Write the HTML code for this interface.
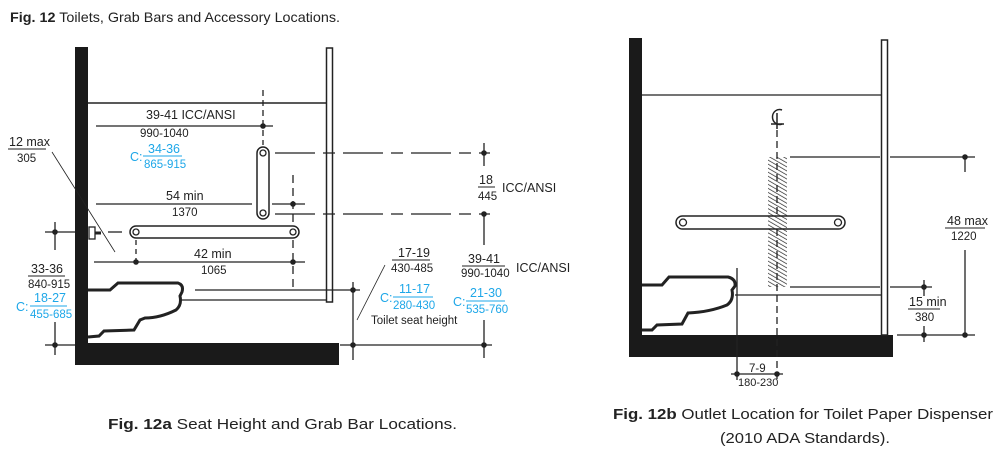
<!DOCTYPE html>
<html><head><meta charset="utf-8"><style>
html,body{margin:0;padding:0;background:#fff;}
svg{display:block;}
text{font-family:"Liberation Sans Narrow","Liberation Sans",sans-serif;fill:#222;}
.b{fill:#1ea7e8;}
</style></head><body>
<svg width="1000" height="452" viewBox="0 0 1000 452" xmlns="http://www.w3.org/2000/svg">
<defs>
<pattern id="h" width="3.5" height="3.5" patternUnits="userSpaceOnUse" patternTransform="rotate(-60)">
<line x1="0" y1="0" x2="0" y2="3.5" stroke="#222" stroke-width="1.4"/></pattern>
</defs>
<text x="10" y="22" font-size="14" textLength="330" lengthAdjust="spacingAndGlyphs" style="font-family:'Liberation Sans',sans-serif"><tspan font-weight="bold">Fig. 12</tspan>  Toilets, Grab Bars and Accessory Locations.</text>

<g stroke="#222" fill="none" stroke-width="1.3">
<rect x="75" y="47" width="13" height="318" fill="#1a1a1a" stroke="none"/>
<rect x="75" y="343" width="264" height="22" fill="#1a1a1a" stroke="none"/>
<rect x="326.5" y="48" width="6" height="254" fill="#fff" stroke-width="1.5"/>
<line x1="88" y1="103" x2="326" y2="103" stroke-width="1.6"/>
<line x1="96" y1="126" x2="273" y2="126"/>
<line x1="263" y1="90" x2="263" y2="145" stroke-dasharray="6,4"/>
<rect x="257" y="147" width="12" height="72" rx="6" fill="#fff" stroke-width="1.5"/>
<circle cx="263" cy="153" r="3" /><circle cx="263" cy="213" r="3"/>
<line x1="275" y1="153" x2="490" y2="153" stroke-dasharray="40,8,12,8"/>
<line x1="275" y1="214" x2="490" y2="214" stroke-dasharray="40,8,12,8"/>
<line x1="96" y1="204" x2="252" y2="204"/>
<line x1="272" y1="204" x2="305" y2="204"/>
<line x1="293" y1="175" x2="293" y2="290" stroke-dasharray="8,5"/>
<rect x="130" y="226" width="169" height="12" rx="6" fill="#fff" stroke-width="1.5"/>
<circle cx="136" cy="232" r="3"/><circle cx="293" cy="232" r="3"/>
<rect x="89" y="227" width="6" height="12" fill="#fff"/><line x1="95" y1="233" x2="101" y2="233" stroke-width="3"/>
<line x1="45" y1="232" x2="75" y2="232"/>
<line x1="108" y1="232" x2="122" y2="232"/>
<line x1="55" y1="222" x2="55" y2="250"/>
<line x1="55" y1="322" x2="55" y2="355"/>
<line x1="45" y1="345" x2="75" y2="345"/>
<line x1="94" y1="262" x2="305" y2="262"/>
<line x1="136" y1="240" x2="136" y2="262" stroke-dasharray="5,4"/>
<line x1="52" y1="152" x2="115" y2="252" stroke-width="0.8"/>
<line x1="195" y1="290" x2="360" y2="290"/>
<line x1="340" y1="345" x2="492" y2="345"/>
<line x1="353" y1="282" x2="353" y2="360"/>
<line x1="484" y1="143" x2="484" y2="166"/>
<line x1="484" y1="214" x2="484" y2="245"/>
<line x1="484" y1="320" x2="484" y2="358"/>
<line x1="385" y1="265" x2="357" y2="320" stroke-width="0.8"/>
<path d="M88 290 L110 290 L118 283 L178 283 Q184 285 182 292 L180 296 Q182 305 176 310 Q160 318 145 318 L140 320 L134 330 L104 331 L99 336 L88 337" stroke-width="3" fill="#fff"/>
<line x1="180" y1="300" x2="326" y2="300" stroke-width="1.3"/>

<rect x="629" y="38" width="13" height="319" fill="#1a1a1a" stroke="none"/>
<rect x="629" y="335" width="264" height="22" fill="#1a1a1a" stroke="none"/>
<rect x="881.5" y="40" width="6" height="295" fill="#fff" stroke-width="1.5"/>
<line x1="642" y1="95" x2="881" y2="95"/>
<line x1="777" y1="130" x2="777" y2="380" stroke-dasharray="7,4"/>
<rect x="676" y="216" width="169" height="13" rx="6.5" fill="#fff" stroke-width="1.5"/>
<circle cx="683" cy="222.5" r="3.5"/><circle cx="838" cy="222.5" r="3.5"/>
<rect x="768" y="157" width="19" height="130" fill="url(#h)" stroke="none"/>
<line x1="790" y1="157" x2="880" y2="157"/>
<line x1="890" y1="157" x2="975" y2="157"/>
<line x1="790" y1="287" x2="880" y2="287"/>
<line x1="890" y1="287" x2="932" y2="287"/>
<line x1="735" y1="295" x2="881" y2="295"/>
<line x1="737" y1="268" x2="737" y2="380"/>
<line x1="897" y1="335" x2="975" y2="335"/>
<line x1="965" y1="157" x2="965" y2="172"/>
<line x1="965" y1="250" x2="965" y2="335"/>
<line x1="924" y1="280" x2="924" y2="296"/>
<line x1="924" y1="326" x2="924" y2="342"/>
<line x1="731" y1="374" x2="783" y2="374"/>
<path d="M642 285 L662 285 L669 277 L728 277 Q736 279 735 286 L732 290 Q734 300 727 305 Q710 312 688 313 L682 324 L657 325 L652 330 L642 330" stroke-width="3" fill="#fff"/>
<path d="M782 110 A7 7.5 0 1 0 782 124" stroke-width="1.5"/>
<path d="M777 113 L777 129 M771 124 L784 124" stroke-width="1.5"/>
</g>
<g fill="#222">
<circle cx="263" cy="126" r="2.8"/><circle cx="293" cy="204" r="2.8"/>
<circle cx="55" cy="232" r="2.8"/><circle cx="55" cy="345" r="2.8"/>
<circle cx="136" cy="262" r="2.8"/><circle cx="293" cy="262" r="2.8"/>
<circle cx="353" cy="290" r="2.8"/><circle cx="353" cy="345" r="2.8"/>
<circle cx="484" cy="153" r="2.8"/><circle cx="484" cy="214" r="2.8"/><circle cx="484" cy="345" r="2.8"/>
<circle cx="965" cy="157" r="2.8"/><circle cx="924" cy="287" r="2.8"/>
<circle cx="924" cy="335" r="2.8"/><circle cx="965" cy="335" r="2.8"/>
<circle cx="737" cy="374" r="2.8"/><circle cx="777" cy="374" r="2.8"/>
</g>
<g stroke="#222" stroke-width="1">
<line x1="8" y1="149" x2="46" y2="149"/>
<line x1="28" y1="276" x2="65" y2="276"/>
<line x1="143" y1="156" x2="182" y2="156" stroke="#1ea7e8"/>
<line x1="30" y1="306" x2="67" y2="306" stroke="#1ea7e8"/>
<line x1="478" y1="187" x2="495" y2="187"/>
<line x1="392" y1="260" x2="430" y2="260"/>
<line x1="393" y1="297" x2="433" y2="297" stroke="#1ea7e8"/>
<line x1="462" y1="266" x2="505" y2="266"/>
<line x1="466" y1="301" x2="505" y2="301" stroke="#1ea7e8"/>
<line x1="945" y1="228" x2="985" y2="228"/>
<line x1="908" y1="309" x2="940" y2="309"/>
</g>
<g font-size="12.5">
<text x="146" y="119">39-41  ICC/ANSI</text>
<text x="140" y="137" font-size="11.5">990-1040</text>
<text x="130" y="161" class="b">C:</text>
<text x="148" y="153" class="b">34-36</text>
<text x="144" y="168" class="b" font-size="11.5">865-915</text>
<text x="166" y="200">54 min</text>
<text x="172" y="216" font-size="11.5">1370</text>
<text x="194" y="258">42 min</text>
<text x="201" y="274" font-size="11.5">1065</text>
<text x="9" y="146">12 max</text>
<text x="17" y="162" font-size="11.5">305</text>
<text x="31" y="273">33-36</text>
<text x="28" y="288" font-size="11.5">840-915</text>
<text x="16" y="311" class="b">C:</text>
<text x="34" y="302" class="b">18-27</text>
<text x="30" y="318" class="b" font-size="11.5">455-685</text>
<text x="479" y="184">18</text>
<text x="478" y="200" font-size="11.5">445</text>
<text x="502" y="192">ICC/ANSI</text>
<text x="398" y="257">17-19</text>
<text x="391" y="272" font-size="11.5">430-485</text>
<text x="380" y="302" class="b">C:</text>
<text x="399" y="293" class="b">11-17</text>
<text x="393" y="309" class="b" font-size="11.5">280-430</text>
<text x="371" y="324" font-size="11.5">Toilet seat height</text>
<text x="468" y="263">39-41</text>
<text x="461" y="277" font-size="11.5">990-1040</text>
<text x="516" y="272">ICC/ANSI</text>
<text x="453" y="306" class="b">C:</text>
<text x="470" y="297" class="b">21-30</text>
<text x="466" y="313" class="b" font-size="11.5">535-760</text>
<text x="947" y="225">48 max</text>
<text x="951" y="240" font-size="11.5">1220</text>
<text x="909" y="306">15 min</text>
<text x="915" y="321" font-size="11.5">380</text>
<text x="749" y="372" font-size="11.5">7-9</text>
<text x="738" y="386" font-size="11">180-230</text>
</g>
<text x="108" y="429" font-size="14.5" textLength="349" lengthAdjust="spacingAndGlyphs"><tspan font-weight="bold">Fig. 12a</tspan>  Seat Height and Grab Bar Locations.</text>
<text x="613" y="419" font-size="14.5" textLength="380" lengthAdjust="spacingAndGlyphs"><tspan font-weight="bold">Fig. 12b</tspan>  Outlet Location for Toilet Paper Dispenser</text>
<text x="720" y="443" font-size="14.5" textLength="170" lengthAdjust="spacingAndGlyphs">(2010 ADA Standards).</text>
</svg>
</body></html>
